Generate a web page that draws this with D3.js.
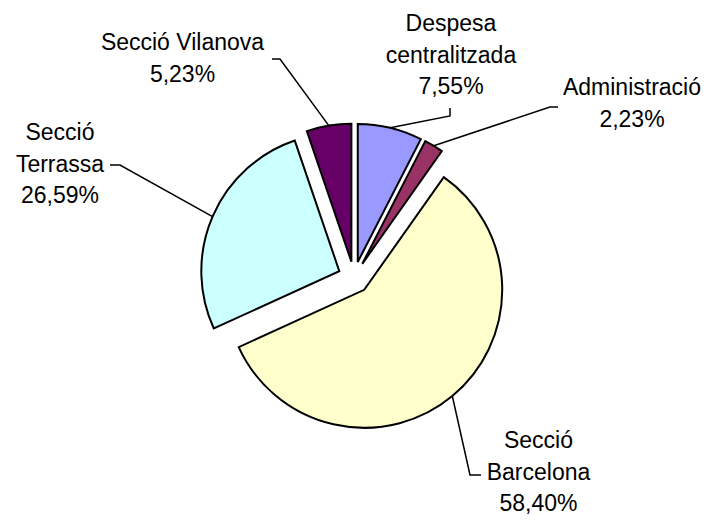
<!DOCTYPE html>
<html>
<head>
<meta charset="utf-8">
<script src="https://cdn.jsdelivr.net/npm/d3@7"></script>
<style>
  html, body { margin: 0; padding: 0; background: #fff; }
  svg { display: block; }
</style>
</head>
<body>
<svg id="chart" width="715" height="523"></svg>
<script>
// ---- data ----
const categories = ["Despesa centralitzada", "Administració", "Secció Barcelona", "Secció Terrassa", "Secció Vilanova"];
const values = [7.55, 2.23, 58.40, 26.59, 5.23];
const colors = ["#9999FF", "#993366", "#FFFFCC", "#CCFFFF", "#660066"];
// label line breaks
const labelLines = [
  ["Despesa", "centralitzada"],
  ["Administració"],
  ["Secció", "Barcelona"],
  ["Secció", "Terrassa"],
  ["Secció Vilanova"]
];

// ---- layout ----
const cx = 354, cy = 277.5, radius = 138, explode = 16;
const fontSize = 23, lineH = 31.7;
const labelLayout = [
  { x: 451, y: 31, leader: [[450, 116], [450, 108]] },
  { x: 632, y: 95, leader: [[550, 107], [558, 107]] },
  { x: 538.5, y: 448, leader: [[470, 475], [481, 475]] },
  { x: 60, y: 140, leader: [[120, 165], [110, 165]] },
  { x: 182.5, y: 50, leader: [[280, 59], [272, 59]] }
];

const fmt = v => d3.format(".2f")(v).replace(".", ",") + "%";

const svg = d3.select("#chart");
const pie = d3.pie().sort(null).value(d => d.value).startAngle(0).endAngle(2 * Math.PI);
const data = categories.map((c, i) => ({ name: c, value: values[i], i }));
const arcs = pie(data);
const arc = d3.arc().innerRadius(0).outerRadius(radius);

const g = svg.append("g").attr("transform", `translate(${cx},${cy})`);

arcs.forEach(a => {
  const mid = (a.startAngle + a.endAngle) / 2;
  const ox = Math.sin(mid) * explode, oy = -Math.cos(mid) * explode;
  g.append("path")
    .attr("d", arc(a))
    .attr("transform", `translate(${ox},${oy})`)
    .attr("fill", colors[a.data.i])
    .attr("stroke", "#000")
    .attr("stroke-width", 2)
    .attr("stroke-linejoin", "miter");
});

// leader lines
arcs.forEach(a => {
  const i = a.data.i;
  const mid = (a.startAngle + a.endAngle) / 2;
  const r = radius + explode;
  const sx = cx + Math.sin(mid) * r, sy = cy - Math.cos(mid) * r;
  const pts = [[sx, sy]].concat(labelLayout[i].leader);
  svg.append("path")
    .attr("d", d3.line()(pts))
    .attr("fill", "none")
    .attr("stroke", "#000")
    .attr("stroke-width", 1.5);
});

// labels
arcs.forEach(a => {
  const i = a.data.i;
  const L = labelLayout[i];
  const lines = labelLines[i].concat([fmt(values[i])]);
  const t = svg.append("text")
    .attr("text-anchor", "middle")
    .attr("font-family", "'Liberation Sans', Arial, sans-serif")
    .attr("font-size", fontSize)
    .attr("fill", "#000");
  lines.forEach((ln, k) => {
    t.append("tspan").attr("x", L.x).attr("y", L.y + k * lineH).text(ln);
  });
});
</script>
</body>
</html>
